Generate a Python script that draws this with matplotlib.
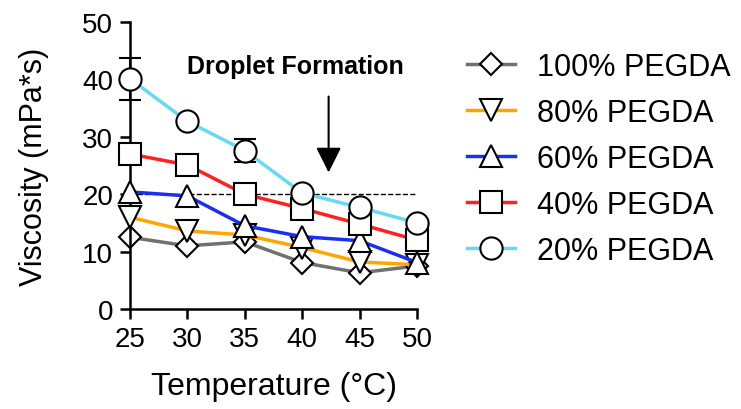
import matplotlib.pyplot as plt
import numpy as np

plt.rcParams['font.family'] = ['Liberation Sans', 'DejaVu Sans']

temps = [25, 30, 35, 40, 45, 50]
labels = ['100% PEGDA', '80% PEGDA', '60% PEGDA', '40% PEGDA', '20% PEGDA']
v100 = [12.5, 11.0, 11.7, 8.1, 6.3, 7.5]
v80 = [16.0, 13.6, 12.9, 10.7, 8.2, 7.7]
v60 = [20.4, 19.7, 14.5, 12.6, 11.9, 8.1]
v40 = [27.0, 25.1, 20.0, 17.5, 14.8, 12.0]
v20 = [40.1, 32.7, 27.6, 20.2, 17.7, 15.0]
# only the visible error bars (others are hidden under the markers)
err_t = [25, 35]
err_v = [40.1, 27.6]
err_e = [3.7, 2.0]

series = [v100, v80, v60, v40, v20]
colors = ['#707070', '#ffa500', '#1a2ff0', '#ff2020', '#66d9f5']
markers = ['D', 'v', '^', 's', 'o']
msizes = [11.5, 16, 16, 16, 16]

fig = plt.figure(figsize=(7.41, 4.10), dpi=100)
ax = fig.add_axes([0.1754, 0.2439, 0.3874, 0.70])

ax.plot([25, 50], [20, 20], 'k--', lw=1, zorder=1)

for i, (vals, c, m, ms, lab) in enumerate(zip(series, colors, markers, msizes, labels)):
    if i == 4:
        ax.errorbar(err_t, err_v, yerr=err_e, fmt='none', ecolor='black',
                    elinewidth=1.5, capsize=8, capthick=1.5, zorder=2 + i, clip_on=False)
    ax.plot(temps, vals, color=c, lw=2.5, marker=m, ms=ms,
            mfc='white', mec='black', mew=1.5, label=lab, zorder=2 + i, clip_on=False)

ax.annotate('', xy=(42.3, 23.3), xytext=(42.3, 37.5),
            arrowprops=dict(arrowstyle='-|>,head_length=0.7,head_width=0.35',
                            color='black', lw=1.5, mutation_scale=22))
ax.text(39.4, 42.3, 'Droplet Formation', ha='center', va='center',
        fontsize=18, fontweight='bold')

ax.set_xlim(25, 50)
ax.set_ylim(0, 50)
ax.set_xticks(temps)
ax.set_yticks([0, 10, 20, 30, 40, 50])
ax.tick_params(labelsize=20, width=1.8, length=7, direction='out', pad=5)
for s in ['top', 'right']:
    ax.spines[s].set_visible(False)
for s in ['left', 'bottom']:
    ax.spines[s].set_linewidth(1.8)
ax.set_xlabel('Temperature (°C)', fontsize=23, labelpad=14)
ax.set_ylabel('Viscosity (mPa*s)', fontsize=22, labelpad=24)

ax.legend(loc='upper left', bbox_to_anchor=(1.174, 0.895), frameon=False,
          fontsize=22, handlelength=1.57, labelspacing=0.52, handletextpad=0.72,
          borderaxespad=0, borderpad=0)

fig.savefig('out.png', dpi=100)
